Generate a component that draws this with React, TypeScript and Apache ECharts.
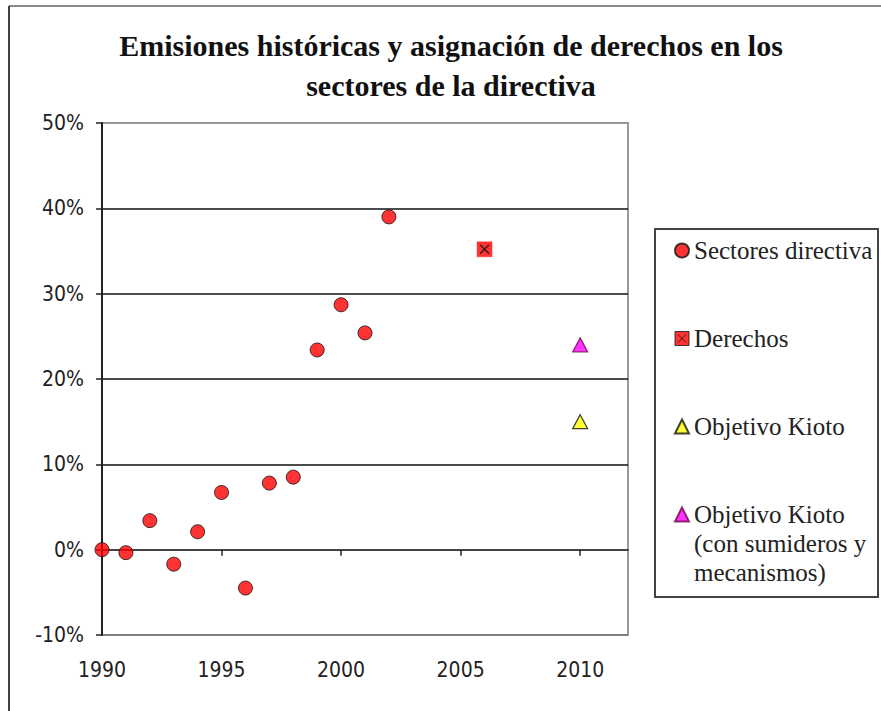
import React, { useEffect, useRef } from "react";
import * as echarts from "echarts";

const years = [1990, 1991, 1992, 1993, 1994, 1995, 1996, 1997, 1998, 1999, 2000, 2001, 2002];
const sectores = [0, -0.35, 3.4, -1.7, 2.1, 6.7, -4.5, 7.8, 8.5, 23.4, 28.7, 25.4, 39.0];
const derechos = [[2006, 35.2]];
const kioto = [[2010, 15.0]];
const kiotoSumideros = [[2010, 24.0]];
const seriesNames = ["Sectores directiva", "Derechos", "Objetivo Kioto", "Objetivo Kioto (con sumideros y mecanismos)"];
const lastLegendLines = ["Objetivo Kioto", "(con sumideros y", "mecanismos)"];
const titleLines = ["Emisiones históricas y asignación de derechos en los", "sectores de la directiva"];

const serif = "'Liberation Serif', 'DejaVu Serif', serif";
const sans = "'DejaVu Sans Condensed', 'Liberation Sans', sans-serif";

export default function App() {
  const ref = useRef<HTMLDivElement>(null);
  useEffect(() => {
    document.body.style.margin = "0";
    if (!ref.current) return;
    const chart = echarts.init(ref.current, null, { renderer: "svg" });
    const legendText = { fontFamily: serif, fontSize: 25, color: "#222", lineHeight: 29 };
    chart.setOption({
      animation: false,
      backgroundColor: "#fff",
      title: {
        text: titleLines.join("\n"),
        left: 451,
        textAlign: "center",
        top: 25,
        padding: 0,
        textStyle: { fontFamily: serif, fontWeight: "bold", fontSize: 30, lineHeight: 40, color: "#111" },
      },
      grid: {
        left: 102, right: 253, top: 123, bottom: 76,
        show: true, borderColor: "#999", borderWidth: 2, backgroundColor: "#fff",
      },
      xAxis: {
        type: "value", min: 1990, max: 2012, interval: 5,
        axisLine: { show: true, lineStyle: { color: "#444", width: 2 } },
        axisTick: { show: true, length: 6, lineStyle: { color: "#222", width: 1.5 } },
        axisLabel: { showMaxLabel: false, margin: 24, fontFamily: sans, fontSize: 21, color: "#222", formatter: (v: number) => String(v) },
        splitLine: { show: false },
      },
      yAxis: {
        type: "value", min: -10, max: 50, interval: 10,
        axisLine: { show: true, onZero: false, lineStyle: { color: "#222", width: 2 } },
        axisTick: { show: true, length: 6, lineStyle: { color: "#222", width: 1.5 } },
        axisLabel: { margin: 18, fontFamily: sans, fontSize: 21, color: "#222", formatter: (v: number) => `${v}%` },
        splitLine: { show: true, lineStyle: { color: ["#777", "#111", "#111", "#111", "#111", "#111", "#999"], width: 1.6 } },
      },
      legend: [
        {
          orient: "vertical", left: 669, top: 231, itemGap: 59, itemWidth: 14, itemHeight: 14,
          data: [
            seriesNames[0],
            { name: seriesNames[1], icon: "path://M0,0H10V10H0ZM2,2L8,8M8,2L2,8", itemStyle: { color: "#ff0000", borderColor: "#111", borderWidth: 1 } },
            seriesNames[2],
          ],
          textStyle: legendText,
        },
        {
          orient: "vertical", left: 669, top: 437, itemWidth: 14, itemHeight: 14,
          data: [seriesNames[3]],
          formatter: () => "\n\n" + lastLegendLines.join("\n"),
          textStyle: legendText,
        },
      ],
      graphic: [
        { type: "rect", shape: { x: 655, y: 229, width: 223, height: 368 }, style: { fill: "none", stroke: "#444", lineWidth: 2 }, silent: true },
        { type: "line", shape: { x1: 9, y1: 6, x2: 881, y2: 6 }, style: { stroke: "#888", lineWidth: 2 }, silent: true },
        { type: "line", shape: { x1: 9, y1: 6, x2: 9, y2: 711 }, style: { stroke: "#444", lineWidth: 2 }, silent: true },
      ],
      series: [
        {
          name: seriesNames[0], type: "scatter", symbol: "circle", symbolSize: 14,
          data: years.map((y, i) => [y, sectores[i]]),
          itemStyle: { color: "#ff0000", borderColor: "#111", borderWidth: 1 },
        },
        {
          name: seriesNames[1], type: "scatter", symbol: "rect", symbolSize: 15, data: derechos,
          itemStyle: { color: "#ff0000", borderColor: "#ff2020", borderWidth: 0.5 }, z: 2,
        },
        {
          name: "x", type: "scatter", symbol: "path://M0,0L10,10M10,0L0,10", symbolSize: 9, data: derechos,
          itemStyle: { color: "none", borderColor: "#111", borderWidth: 1.5 }, z: 3, legendHoverLink: false,
        },
        {
          name: seriesNames[2], type: "scatter", symbol: "triangle", symbolSize: [15, 14], data: kioto,
          itemStyle: { color: "#ffff00", borderColor: "#111", borderWidth: 1.2 },
        },
        {
          name: seriesNames[3], type: "scatter", symbol: "triangle", symbolSize: [15, 14], data: kiotoSumideros,
          itemStyle: { color: "#ff00ff", borderColor: "#7a0050", borderWidth: 1.2 },
        },
      ],
    });
    return () => chart.dispose();
  }, []);
  return <div ref={ref} style={{ width: 881, height: 711 }} />;
}
